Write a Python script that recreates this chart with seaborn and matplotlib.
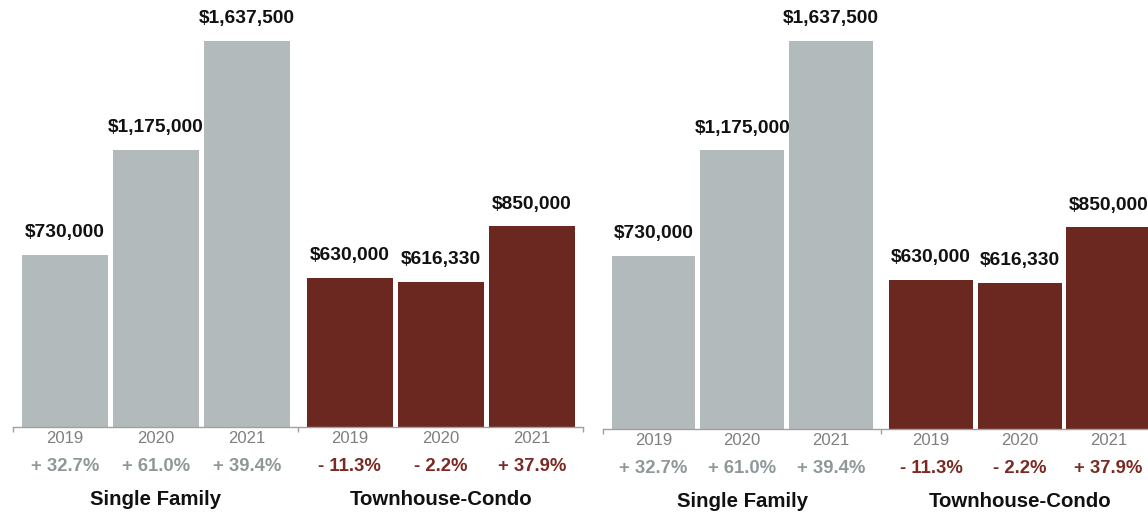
import numpy as np
import pandas as pd
import matplotlib
matplotlib.use("Agg")
import matplotlib.pyplot as plt
import seaborn as sns

# chart values
segments = ["Single Family", "Townhouse-Condo"]
years = ["2019", "2020", "2021"]
single_family = [730000, 1175000, 1637500]
townhouse_condo = [630000, 616330, 850000]
sf_change = [32.7, 61.0, 39.4]
tc_change = [-11.3, -2.2, 37.9]

bar_colors = {"Single Family": "#b3babb", "Townhouse-Condo": "#6b2821"}
pct_colors = {"Single Family": "#8e9899", "Townhouse-Condo": "#7a2a22"}

sns.set_style("white")
plt.rcParams["font.family"] = ["Liberation Sans", "DejaVu Sans"]

group_gap = 1.13
rows = []
for g, (seg, vals, chg) in enumerate(zip(segments, [single_family, townhouse_condo], [sf_change, tc_change])):
    for i, (yr, v, c) in enumerate(zip(years, vals, chg)):
        rows.append({"segment": seg, "year": yr, "price": v, "change": c,
                     "pos": i + g * (len(years) - 1 + group_gap)})
df = pd.DataFrame(rows)


def fmt_change(c):
    sign = "+" if c >= 0 else "-"
    return f"{sign} {abs(c):.1f}%"


def draw(ax):
    sns.barplot(data=df, x="pos", y="price", hue="segment", palette=bar_colors,
                native_scale=True, width=0.945, saturation=1, errorbar=None,
                legend=False, linewidth=0, ax=ax)
    lo = df["pos"].min() - 0.57
    hi = df["pos"].max() + 0.56
    mid = (df["pos"].iloc[2] + df["pos"].iloc[3]) / 2
    ax.set_xlim(lo, hi)
    ax.set_ylim(0, df["price"].max() * 1.105)
    for s in ["top", "right", "left"]:
        ax.spines[s].set_visible(False)
    ax.spines["bottom"].set_color("#a0a0a0")
    ax.spines["bottom"].set_linewidth(1)
    ax.set_xticks([lo, mid, hi])
    ax.set_xticklabels([])
    ax.tick_params(axis="x", bottom=True, length=3.6, width=1, color="#a0a0a0",
                   direction="out")
    ax.set_yticks([])
    ax.set_xlabel("")
    ax.set_ylabel("")

    for _, r in df.iterrows():
        ax.annotate(f"${r['price']:,.0f}", (r["pos"], r["price"]), xytext=(0, 10),
                    textcoords="offset points", ha="center", va="bottom",
                    fontsize=13.8, fontweight="bold", color="#111111")
        ax.annotate(r["year"], (r["pos"], 0), xytext=(0, -8.5), textcoords="offset points",
                    ha="center", va="center", fontsize=12, color="#7f7f7f")
        ax.annotate(fmt_change(r["change"]), (r["pos"], 0), xytext=(0, -28.3),
                    textcoords="offset points", ha="center", va="center",
                    fontsize=13.3, fontweight="bold", color=pct_colors[r["segment"]])
    for seg in segments:
        x = df.loc[df["segment"] == seg, "pos"].mean()
        ax.annotate(seg, (x, 0), xytext=(0, -52.3), textcoords="offset points",
                    ha="center", va="center", fontsize=14.7, fontweight="bold",
                    color="#111111")


W, H = 1148, 514
fig = plt.figure(figsize=(W / 100, H / 100), dpi=100)
ax1 = fig.add_axes([13 / W, 87 / H, 570 / W, 427 / H])
ax2 = fig.add_axes([603 / W, 85 / H, 555 / W, 429 / H])
draw(ax1)
draw(ax2)

fig.savefig("out.png", dpi=100)
